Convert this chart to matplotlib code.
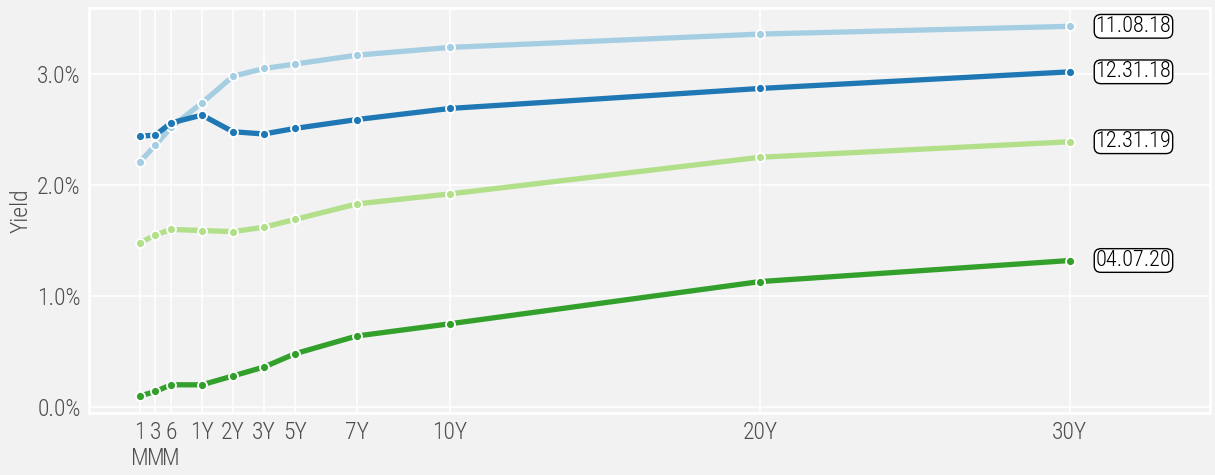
import matplotlib
matplotlib.use("Agg")
import matplotlib.pyplot as plt
from matplotlib.ticker import FuncFormatter

# ---- data ----
maturities = ["1M", "3M", "6M", "1Y", "2Y", "3Y", "5Y", "7Y", "10Y", "20Y", "30Y"]
tick_labels = ["1\nM", "3\nM", "6\nM", "1Y", "2Y", "3Y", "5Y", "7Y", "10Y", "20Y", "30Y"]
x_pos = [0, 0.5, 1, 2, 3, 4, 5, 7, 10, 20, 30]

dates = ["11.08.18", "12.31.18", "12.31.19", "04.07.20"]
y_110818 = [2.21, 2.36, 2.52, 2.74, 2.98, 3.05, 3.09, 3.17, 3.24, 3.36, 3.43]
y_123118 = [2.44, 2.45, 2.56, 2.63, 2.48, 2.46, 2.51, 2.59, 2.69, 2.87, 3.02]
y_123119 = [1.48, 1.55, 1.60, 1.59, 1.58, 1.62, 1.69, 1.83, 1.92, 2.25, 2.39]
y_040720 = [0.10, 0.14, 0.20, 0.20, 0.28, 0.36, 0.48, 0.64, 0.75, 1.13, 1.32]
series = [y_110818, y_123118, y_123119, y_040720]
colors = ["#a6cee3", "#1f78b4", "#b2df8a", "#33a02c"]

FONT = "Roboto Condensed"
plt.rcParams["font.family"] = [FONT, "DejaVu Sans"]
plt.rcParams["font.weight"] = "light"

bg = "#f2f2f2"
fig = plt.figure(figsize=(12.15, 4.75), dpi=100, facecolor=bg)
ax = fig.add_axes([89 / 1215, 1 - 413 / 475, (1210 - 89) / 1215, (413 - 8) / 475])
ax.set_facecolor(bg)

for vals, c, lab in zip(series, colors, dates):
    ax.plot(x_pos, vals, color=c, lw=3.8, marker="o", ms=6.5, mfc=c, mec="white",
            mew=1.3, zorder=3, solid_joinstyle="round")
    ax.annotate(lab, xy=(x_pos[-1], vals[-1]), xytext=(18.5, 0), textcoords="offset points",
                ha="left", va="center", fontsize=16, color="black", fontweight="light",
                bbox=dict(boxstyle="round,pad=0.06,rounding_size=0.3", fc="white", ec="black", lw=1))

ax.set_xlim(-1.645, 34.52)
ax.set_ylim(-0.054, 3.595)
ax.set_xticks(x_pos)
ax.set_xticklabels(tick_labels, linespacing=1.15)
ax.set_yticks([0, 1, 2, 3])
ax.yaxis.set_major_formatter(FuncFormatter(lambda v, p: f"{v:.1f}%"))
ax.tick_params(length=0, labelsize=17, colors="#4d4d4d", pad=6)
for t in ax.get_xticklabels():
    t.set_verticalalignment("top")
ax.grid(True, color="white", lw=1.2, zorder=0)
ax.set_axisbelow(True)
for s in ax.spines.values():
    s.set_color("white")
    s.set_linewidth(2)
ax.set_ylabel("Yield", fontsize=17, color="#4d4d4d", labelpad=3, fontweight="light")

fig.savefig("out.png", facecolor=bg)
